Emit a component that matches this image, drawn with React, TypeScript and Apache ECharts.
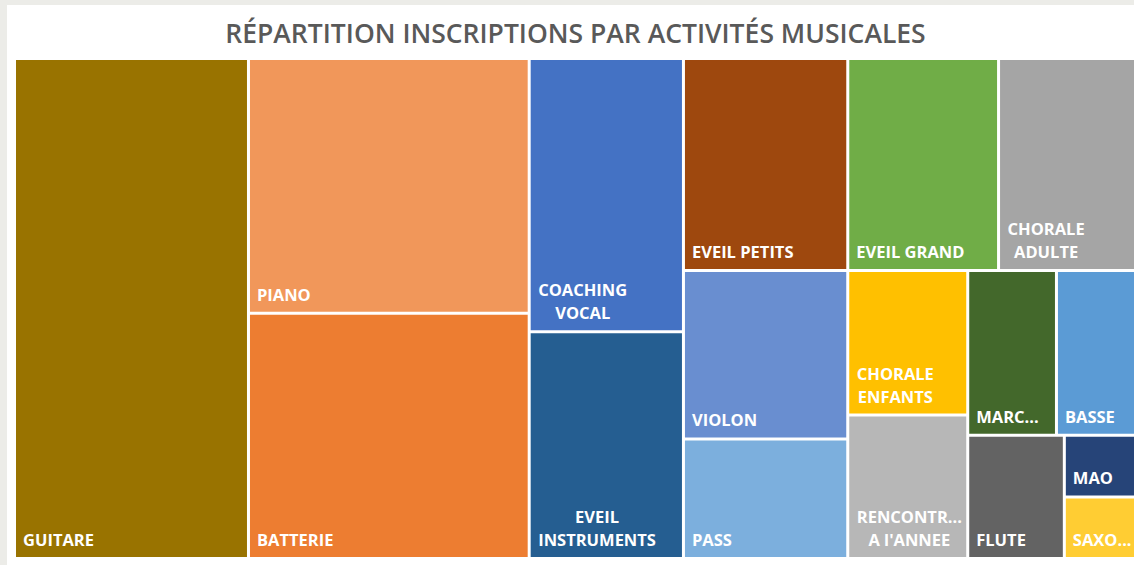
import React, { useEffect, useRef } from "react";
import * as echarts from "echarts";

// Activities (label text as shown in the chart; "\n" = line break of the label)
const categories: string[] = [
  "GUITARE",
  "PIANO",
  "BATTERIE",
  "COACHING\nVOCAL",
  "EVEIL\nINSTRUMENTS",
  "EVEIL PETITS",
  "EVEIL GRAND",
  "CHORALE\nADULTE",
  "VIOLON",
  "PASS",
  "CHORALE\nENFANTS",
  "RENCONTR...\nA l'ANNEE",
  "MARC...",
  "BASSE",
  "FLUTE",
  "MAO",
  "SAXO...",
];

// Registrations per activity
const inscriptions: number[] = [
  81.6, 49.9, 48.0, 29.4, 24.4, 24.3, 22.3, 20.4, 19.3, 13.7, 12.1, 12.0, 10.2, 9.2, 8.3, 3.1, 3.1,
];

const colors: string[] = [
  "#997300", "#F1975A", "#ED7D31", "#4472C4", "#255E91", "#9E480E", "#70AD47", "#A5A5A5",
  "#698ED0", "#7CAFDD", "#FFC000", "#B7B7B7", "#43682B", "#5B9BD5", "#636363", "#264478", "#FFCD33",
];

// How the cells are grouped in the treemap (indices into the arrays above)
type Arr = number | Arr[];
const arrangement: Arr[] = [0, [1, 2], [3, 4], [[5, 6, 7], [[8, 9], [10, 11], [[12, 13], [14, [15, 16]]]]]];

const FONT = '"Open Sans", "DejaVu Sans", sans-serif';
const LABEL_SIZE = 16.5;
const LINE_H = 23;

function measure(s: string): number {
  const ctx = document.createElement("canvas").getContext("2d");
  if (!ctx) return s.length * 10;
  ctx.font = `bold ${LABEL_SIZE}px ${FONT}`;
  return ctx.measureText(s).width;
}

let groupId = 0;
function build(node: Arr): any {
  if (typeof node === "number") {
    const name = categories[node];
    const lines = name.split("\n");
    const item: any = {
      name,
      value: inscriptions[node],
      itemStyle: { color: colors[node], borderColor: "#ffffff", borderWidth: 1.5 },
    };
    if (lines.length > 1) {
      const w = Math.max(...lines.map(measure));
      item.label = { align: "center", offset: [w / 2 + 1, 0] };
    }
    return item;
  }
  const children = node.map(build);
  const value = children.reduce((s: number, c: any) => s + c.value, 0);
  groupId += 1;
  return {
    name: "g" + groupId,
    value,
    children,
    itemStyle: { borderWidth: 0, gapWidth: 0 },
    label: { show: false },
    upperLabel: { show: false },
  };
}

export default function App() {
  const ref = useRef<HTMLDivElement>(null);
  useEffect(() => {
    if (!ref.current) return;
    const chart = echarts.init(ref.current, undefined, { renderer: "svg" });
    groupId = 0;
    const data = arrangement.map(build);
    chart.setOption({
      animation: false,
      backgroundColor: "#ffffff",
      title: {
        text: "RÉPARTITION INSCRIPTIONS PAR ACTIVITÉS MUSICALES",
        left: "center",
        top: 9,
        textStyle: { fontFamily: FONT, fontSize: 26.5, fontWeight: 600, color: "#595959" },
      },
      tooltip: { show: false },
      series: [
        {
          type: "treemap",
          left: 7.5,
          top: 53.5,
          width: 1122,
          height: 500,
          squareRatio: 0.9,
          sort: false,
          roam: false,
          nodeClick: false,
          breadcrumb: { show: false },
          itemStyle: { borderWidth: 0, gapWidth: 0, borderColor: "#ffffff" },
          upperLabel: { show: false },
          label: {
            show: true,
            position: "insideBottomLeft",
            distance: 6,
            padding: [0, 0, 0, 1],
            color: "#ffffff",
            fontFamily: FONT,
            fontWeight: "bold",
            fontSize: LABEL_SIZE,
            lineHeight: LINE_H,
          },
          emphasis: { disabled: true },
          data,
        },
      ],
    });
    return () => chart.dispose();
  }, []);

  return (
    <div
      style={{
        position: "absolute",
        left: 0,
        top: 0,
        width: 1134,
        height: 565,
        overflow: "hidden",
        background: "#ECECE8",
      }}
    >
      <div ref={ref} style={{ position: "absolute", left: 7, top: 5, width: 1137, height: 560 }} />
    </div>
  );
}
